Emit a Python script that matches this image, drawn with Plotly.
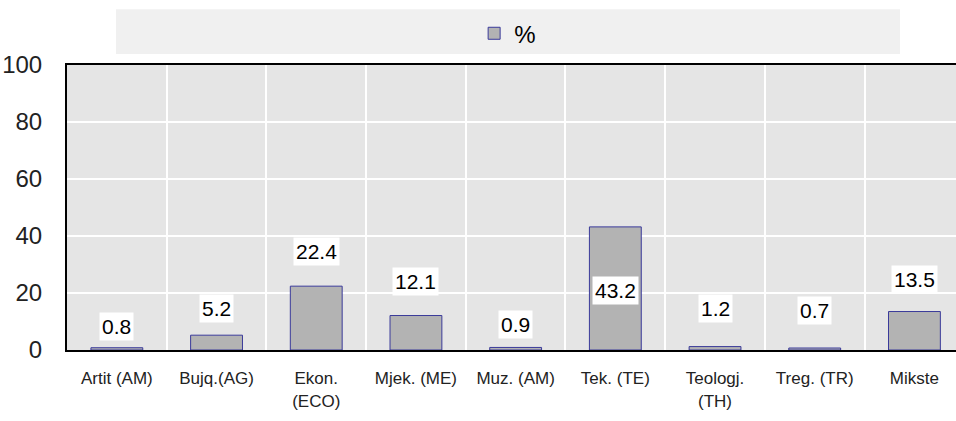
import plotly.graph_objects as go

categories = ["Artit (AM)", "Bujq.(AG)", "Ekon.<br>(ECO)", "Mjek. (ME)", "Muz. (AM)",
              "Tek. (TE)", "Teologj.<br>(TH)", "Treg. (TR)", "Mikste"]
values = [0.8, 5.2, 22.4, 12.1, 0.9, 43.2, 1.2, 0.7, 13.5]
label_heights = [8.4, 14.4, 34.4, 23.9, 8.8, 21.0, 14.4, 14.0, 24.9]
y_ticks = [0, 20, 40, 60, 80, 100]
series_name = "%"

narrow = "Liberation Sans Narrow, Arial Narrow, Liberation Sans, Arial, sans-serif"
regular = "Liberation Sans, Arial, sans-serif"

x_idx = list(range(len(categories)))

fig = go.Figure()
fig.add_trace(go.Bar(
    x=x_idx, y=values, name=series_name, width=0.52,
    marker=dict(color="#b3b3b3", line=dict(color="#3a3a9a", width=1)),
    showlegend=True,
))

for i, (v, h) in enumerate(zip(values, label_heights)):
    fig.add_annotation(
        x=i, y=h, xref="x", yref="y", text=f"{v:.1f}", showarrow=False,
        bgcolor="white", borderpad=2,
        font=dict(family=regular, size=21, color="black"),
    )

fig.add_shape(type="rect", xref="paper", yref="paper",
              x0=0.0551, x1=0.937, y0=1.0386, y1=1.196,
              fillcolor="#f0f0f0", line=dict(width=0), layer="below")

fig.update_layout(
    width=956, height=421,
    margin=dict(l=67, r=0, t=65, b=71, autoexpand=False),
    paper_bgcolor="white", plot_bgcolor="#e5e5e5",
    showlegend=True,
    legend=dict(orientation="h", xref="container", yref="container",
                x=0.531, xanchor="center", y=0.92, yanchor="middle",
                bgcolor="rgba(0,0,0,0)",
                font=dict(family=regular, size=24, color="black")),
)
fig.update_xaxes(
    range=[-0.5, 8.417], tickmode="array", tickvals=x_idx, ticktext=categories,
    showgrid=False, zeroline=False, automargin=False,
    showline=True, linecolor="black", linewidth=2, mirror=True,
    ticks="", ticklabelstandoff=12,
    tickfont=dict(family=narrow, size=17, color="#222222"),
    minor=dict(tickmode="linear", tick0=0.5, dtick=1, showgrid=True,
               gridcolor="white", gridwidth=2, ticks=""),
)
fig.update_yaxes(
    range=[0, 100], tickmode="array", tickvals=y_ticks,
    showgrid=True, gridcolor="white", gridwidth=2, zeroline=False, automargin=False,
    showline=True, linecolor="black", linewidth=2,
    ticks="", ticklabelstandoff=18,
    tickfont=dict(family=narrow, size=24, color="#222222"),
)

fig.write_html(
    "out.html",
    config={"displayModeBar": False},
    post_script="document.body.style.margin='0px';document.body.style.overflow='hidden';",
)
